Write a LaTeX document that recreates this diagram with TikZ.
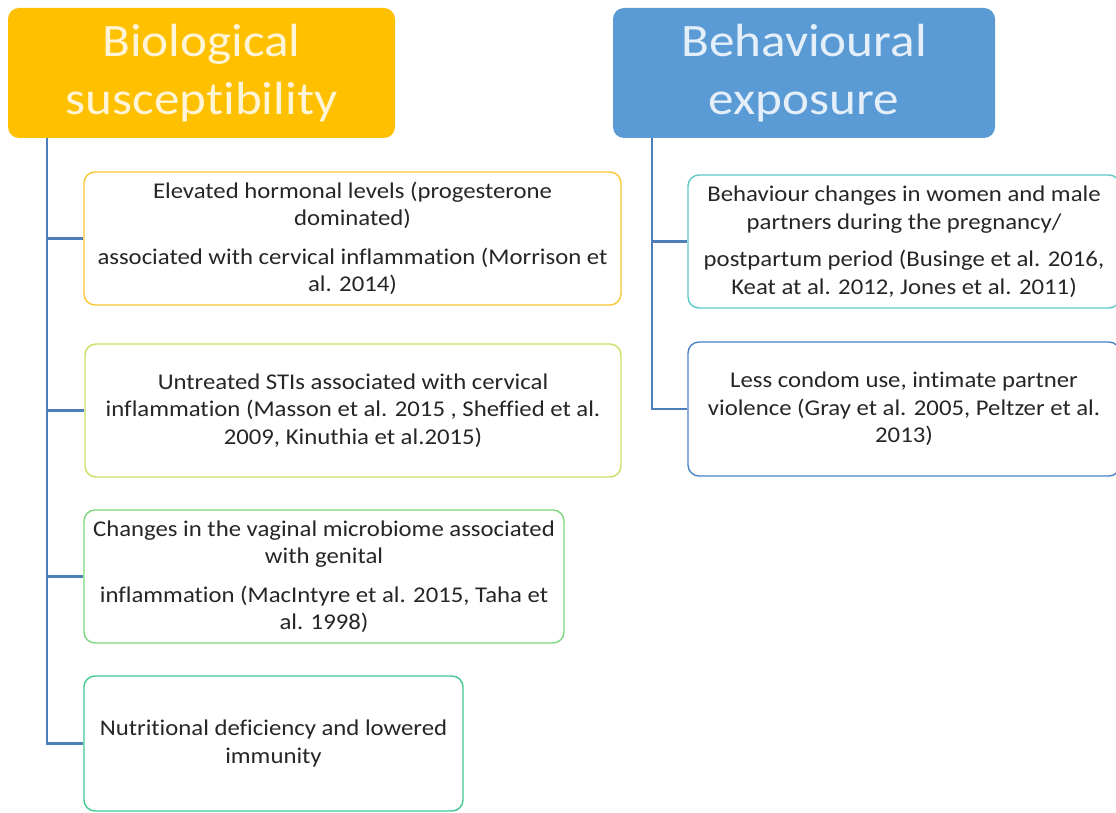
\documentclass[tikz,border=0pt]{standalone}
\usepackage{fontspec}
\setmainfont{Carlito}[FakeStretch=1.1, Ligatures=NoCommon]
\begin{document}
\begin{tikzpicture}[x=1pt,y=-1pt,
  title/.style={rounded corners=11pt, inner sep=0pt, align=center,
    minimum width=387pt, minimum height=130pt,
    font=\fontsize{46.5}{58}\selectfont},
  item/.style={draw, line width=1.4pt, rounded corners=11pt, fill=white,
    inner sep=0pt, align=center, minimum height=133pt, text=textgray,
    font=\fontsize{22.5}{27.5}\selectfont},
  conn/.style={draw=lineblue, line width=2.2pt}
]
\definecolor{gold}{HTML}{FFC000}
\definecolor{goldtext}{HTML}{FFF5D6}
\definecolor{bluefill}{HTML}{5B9BD5}
\definecolor{bluetext}{HTML}{E4EFFA}
\definecolor{lineblue}{HTML}{4F7FBA}
\definecolor{textgray}{HTML}{262626}
\definecolor{bgold}{HTML}{F9C530}
\definecolor{blime}{HTML}{C8E060}
\definecolor{bgreen}{HTML}{7CD77C}
\definecolor{bteal}{HTML}{40C890}
\definecolor{bcyan}{HTML}{5CC9C9}
\definecolor{bblue}{HTML}{4A84C4}
\useasboundingbox (0,0) rectangle (1116,813);

% titles
\node[title, fill=gold, text=goldtext] (bio) at (201.5,73) {Biological\\susceptibility};
\node[title, fill=bluefill, text=bluetext, minimum width=382pt] (beh) at (804,73) {Behavioural\\exposure};

% left items
\node[item, draw=bgold, minimum width=537pt] (b1) at (352.5,238.5)
  {Elevated hormonal levels (progesterone\\dominated)\\[11pt]associated with cervical inflammation (Morrison et\\al. 2014)};
\node[item, draw=blime, minimum width=536pt] (b2) at (353,410.5)
  {Untreated STIs associated with cervical\\inflammation (Masson et al. 2015 , Sheffied et al.\\2009, Kinuthia et al.2015)};
\node[item, draw=bgreen, minimum width=480pt] (b3) at (324,576.5)
  {Changes in the vaginal microbiome associated\\with genital\\[11pt]inflammation (MacIntyre et al. 2015, Taha et\\al. 1998)};
\node[item, draw=bteal, minimum width=379pt, minimum height=135pt] (b4) at (273.5,743.5)
  {Nutritional deficiency and lowered\\immunity};

% right items
\node[item, draw=bcyan, minimum width=432pt] (b5) at (904,241.5)
  {Behaviour changes in women and male\\partners during the pregnancy/\\[10pt]postpartum period (Businge et al. 2016,\\Keat at al. 2012, Jones et al. 2011)};
\node[item, draw=bblue, minimum width=432pt, minimum height=134pt] (b6) at (904,409)
  {Less condom use, intimate partner\\violence (Gray et al. 2005, Peltzer et al.\\2013)};

% connectors
\coordinate (t1) at (47,138);
\coordinate (t2) at (652,138);
\draw[conn] (t1) |- (b4.west);
\draw[conn] (b1.west -| t1) -- (b1.west);
\draw[conn] (b2.west -| t1) -- (b2.west);
\draw[conn] (b3.west -| t1) -- (b3.west);
\draw[conn] (t2) |- (b6.west);
\draw[conn] (b5.west -| t2) -- (b5.west);
\end{tikzpicture}
\end{document}
